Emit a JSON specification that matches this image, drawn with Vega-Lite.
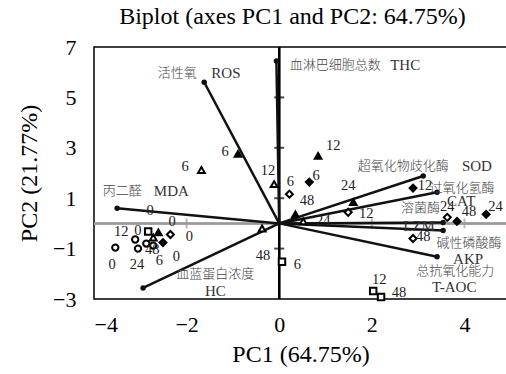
{
  "$schema": "https://vega.github.io/schema/vega-lite/v6.json",
  "width": 413,
  "height": 252,
  "autosize": {"type": "none"},
  "padding": {"left": 94, "top": 47, "right": 0, "bottom": 75},
  "background": "white",
  "title": {"text": "Biplot (axes PC1 and PC2: 64.75%)", "font": "Liberation Serif", "fontSize": 24, "fontWeight": "normal", "color": "black", "anchor": "middle", "dx": -8, "offset": 7},
  "config": {
    "view": {"stroke": "black", "strokeWidth": 1.5},
    "axis": {"grid": false, "ticks": false, "domain": false, "labelFont": "Liberation Serif", "labelFontSize": 22, "labelColor": "black", "titleFont": "Liberation Serif", "titleFontSize": 24, "titleFontWeight": "normal", "titleColor": "black"}
  },
  "datasets": {
    "scores": [
      {"group": "A", "time": "0", "pc1": -3.54, "pc2": -0.96, "lx": -3.61, "ly": -1.64},
      {"group": "A", "time": "12", "pc1": -3.11, "pc2": -0.64, "lx": -3.41, "ly": -0.36},
      {"group": "A", "time": "24", "pc1": -3.05, "pc2": -1.0, "lx": -3.07, "ly": -1.64},
      {"group": "A", "time": "48", "pc1": -2.87, "pc2": -0.8, "lx": -2.74, "ly": -1.04},
      {"group": "A", "time": "6", "pc1": -2.72, "pc2": -0.88, "lx": -2.59, "ly": -1.48},
      {"group": "B", "time": "0", "pc1": -2.83, "pc2": -0.32, "lx": -3.05, "ly": -0.32},
      {"group": "B", "time": "6", "pc1": 0.06, "pc2": -1.52, "lx": 0.39, "ly": -1.64},
      {"group": "B", "time": "12", "pc1": 2.03, "pc2": -2.68, "lx": 2.16, "ly": -2.24},
      {"group": "B", "time": "48", "pc1": 2.2, "pc2": -2.92, "lx": 2.59, "ly": -2.76},
      {"group": "C", "time": "0", "pc1": -2.61, "pc2": -0.36, "lx": -2.31, "ly": 0.04},
      {"group": "C", "time": "6", "pc1": -0.89, "pc2": 2.76, "lx": -1.17, "ly": 2.84},
      {"group": "C", "time": "12", "pc1": 0.84, "pc2": 2.68, "lx": 1.17, "ly": 3.08},
      {"group": "C", "time": "24", "pc1": 1.6, "pc2": 0.84, "lx": 1.49, "ly": 1.48},
      {"group": "C", "time": "48", "pc1": 0.35, "pc2": 0.36, "lx": 0.6, "ly": 0.88},
      {"group": "D", "time": "0", "pc1": -2.72, "pc2": -0.56, "lx": -2.79, "ly": 0.48},
      {"group": "D", "time": "6", "pc1": -1.68, "pc2": 2.12, "lx": -2.03, "ly": 2.24},
      {"group": "D", "time": "12", "pc1": -0.11, "pc2": 1.56, "lx": -0.24, "ly": 2.08},
      {"group": "D", "time": "24", "pc1": 0.52, "pc2": 0.08, "lx": 0.95, "ly": 0.08},
      {"group": "D", "time": "48", "pc1": -0.37, "pc2": -0.2, "lx": -0.35, "ly": -1.28},
      {"group": "E", "time": "0", "pc1": -2.51, "pc2": -0.76, "lx": -2.22, "ly": -1.32},
      {"group": "E", "time": "6", "pc1": 0.65, "pc2": 1.64, "lx": 0.8, "ly": 1.88},
      {"group": "E", "time": "12", "pc1": 2.89, "pc2": 1.4, "lx": 3.15, "ly": 1.48},
      {"group": "E", "time": "24", "pc1": 4.47, "pc2": 0.36, "lx": 4.67, "ly": 0.64},
      {"group": "E", "time": "48", "pc1": 3.84, "pc2": 0.08, "lx": 4.1, "ly": 0.44},
      {"group": "F", "time": "0", "pc1": -2.35, "pc2": -0.44, "lx": -1.94, "ly": -0.52},
      {"group": "F", "time": "6", "pc1": 0.22, "pc2": 1.16, "lx": 0.24, "ly": 1.64},
      {"group": "F", "time": "12", "pc1": 1.49, "pc2": 0.44, "lx": 1.88, "ly": 0.36},
      {"group": "F", "time": "24", "pc1": 3.63, "pc2": 0.24, "lx": 3.63, "ly": 0.64},
      {"group": "F", "time": "48", "pc1": 2.89, "pc2": -0.6, "lx": 3.11, "ly": -0.52}
    ],
    "loadings": [
      {"var": "ROS", "pc1": -1.62, "pc2": 5.6},
      {"var": "THC", "pc1": -0.06, "pc2": 6.44},
      {"var": "MDA", "pc1": -3.5, "pc2": 0.6},
      {"var": "HC", "pc1": -2.94, "pc2": -2.56},
      {"var": "SOD", "pc1": 3.11, "pc2": 1.88},
      {"var": "CAT", "pc1": 3.41, "pc2": 1.24},
      {"var": "LZM", "pc1": 3.54, "pc2": 0.04},
      {"var": "AKP", "pc1": 3.54, "pc2": -0.28},
      {"var": "T-AOC", "pc1": 3.41, "pc2": -1.32}
    ],
    "loadingLabels": [
      {"text": "活性氧", "kind": "zh", "pc1": -2.2, "pc2": 5.96},
      {"text": "ROS", "kind": "en", "pc1": -1.15, "pc2": 5.96},
      {"text": "血淋巴细胞总数", "kind": "zh", "pc1": 1.21, "pc2": 6.28},
      {"text": "THC", "kind": "en", "pc1": 2.72, "pc2": 6.28},
      {"text": "丙二醛", "kind": "zh", "pc1": -3.39, "pc2": 1.28},
      {"text": "MDA", "kind": "en", "pc1": -2.33, "pc2": 1.28},
      {"text": "血蓝蛋白浓度", "kind": "zh", "pc1": -1.38, "pc2": -2.0},
      {"text": "HC", "kind": "en", "pc1": -1.38, "pc2": -2.68},
      {"text": "超氧化物歧化酶", "kind": "zh", "pc1": 2.68, "pc2": 2.28},
      {"text": "SOD", "kind": "en", "pc1": 4.27, "pc2": 2.28},
      {"text": "过氧化氢酶", "kind": "zh", "pc1": 3.95, "pc2": 1.4},
      {"text": "CAT", "kind": "en", "pc1": 3.93, "pc2": 0.88},
      {"text": "溶菌酶", "kind": "zh", "pc1": 3.05, "pc2": 0.6},
      {"text": "LZM", "kind": "en", "pc1": 3.02, "pc2": -0.12},
      {"text": "碱性磷酸酶", "kind": "zh", "pc1": 4.1, "pc2": -0.76},
      {"text": "AKP", "kind": "en", "pc1": 4.08, "pc2": -1.4},
      {"text": "总抗氧化能力", "kind": "zh", "pc1": 3.8, "pc2": -1.88},
      {"text": "T-AOC", "kind": "en", "pc1": 3.78, "pc2": -2.52}
    ],
    "vticks": [{"pc1": 0, "pc2": -1}, {"pc1": 0, "pc2": 1}, {"pc1": 0, "pc2": 3}, {"pc1": 0, "pc2": 5}],
    "hticks": [{"pc1": -2, "pc2": 0}, {"pc1": 2, "pc2": 0}, {"pc1": 4, "pc2": 0}]
  },
  "layer": [
    {
      "data": {"name": "hticks"},
      "mark": {"type": "rule", "color": "#9a9a9a", "strokeWidth": 2},
      "transform": [{"filter": "datum.pc1 == 2"}],
      "encoding": {
        "y": {"field": "pc2", "type": "quantitative", "scale": {"domain": [-3, 7], "nice": false, "zero": false}, "title": "PC2 (21.77%)", "axis": {"values": [-3, -1, 1, 3, 5, 7], "labelPadding": 18, "titlePadding": 11}},
        "x": {"field": "pc1", "type": "quantitative", "scale": {"domain": [-4, 4.92], "nice": false, "zero": false}, "title": "PC1 (64.75%)", "axis": {"values": [-4, -2, 0, 2, 4], "labelPadding": 15, "titlePadding": 7}}
      }
    },
    {
      "data": {"name": "hticks"},
      "mark": {"type": "rule", "color": "#9a9a9a", "strokeWidth": 2},
      "encoding": {
        "y": {"datum": 0, "type": "quantitative", "title": "PC2 (21.77%)"}
      }
    },
    {
      "data": {"name": "hticks"},
      "mark": {"type": "tick", "orient": "vertical", "color": "#9a9a9a", "size": 10, "thickness": 2},
      "encoding": {
        "x": {"field": "pc1", "type": "quantitative", "title": "PC1 (64.75%)"},
        "y": {"field": "pc2", "type": "quantitative", "title": "PC2 (21.77%)"}
      }
    },
    {
      "data": {"name": "vticks"},
      "mark": {"type": "rule", "color": "black", "strokeWidth": 2},
      "encoding": {
        "x": {"datum": 0, "type": "quantitative", "title": "PC1 (64.75%)"}
      }
    },
    {
      "data": {"name": "vticks"},
      "mark": {"type": "tick", "orient": "horizontal", "color": "black", "size": 10, "thickness": 2},
      "encoding": {
        "x": {"field": "pc1", "type": "quantitative", "title": "PC1 (64.75%)"},
        "y": {"field": "pc2", "type": "quantitative", "title": "PC2 (21.77%)"}
      }
    },
    {
      "data": {"name": "loadings"},
      "mark": {"type": "rule", "color": "#111111", "strokeWidth": 2.5},
      "encoding": {
        "x": {"field": "pc1", "type": "quantitative", "title": "PC1 (64.75%)"},
        "y": {"field": "pc2", "type": "quantitative", "title": "PC2 (21.77%)"},
        "x2": {"datum": 0},
        "y2": {"datum": 0}
      }
    },
    {
      "data": {"name": "loadings"},
      "mark": {"type": "point", "shape": "circle", "filled": true, "color": "#111111", "size": 30, "opacity": 1},
      "encoding": {
        "x": {"field": "pc1", "type": "quantitative", "title": "PC1 (64.75%)"},
        "y": {"field": "pc2", "type": "quantitative", "title": "PC2 (21.77%)"}
      }
    },
    {
      "data": {"name": "scores"},
      "mark": {"type": "point", "filled": true, "stroke": "black", "strokeWidth": 2, "opacity": 1, "fillOpacity": 1, "strokeOpacity": 1},
      "encoding": {
        "x": {"field": "pc1", "type": "quantitative", "title": "PC1 (64.75%)"},
        "y": {"field": "pc2", "type": "quantitative", "title": "PC2 (21.77%)"},
        "shape": {"field": "group", "type": "nominal", "scale": {"domain": ["A", "B", "C", "D", "E", "F"], "range": ["circle", "square", "triangle-up", "triangle-up", "diamond", "diamond"]}, "legend": null},
        "fill": {"field": "group", "type": "nominal", "scale": {"domain": ["A", "B", "C", "D", "E", "F"], "range": ["white", "white", "black", "white", "black", "white"]}, "legend": null},
        "size": {"field": "group", "type": "nominal", "scale": {"domain": ["A", "B", "C", "D", "E", "F"], "range": [40, 50, 90, 70, 90, 60]}, "legend": null}
      }
    },
    {
      "data": {"name": "scores"},
      "mark": {"type": "text", "font": "Liberation Serif", "fontSize": 14.5, "color": "#222222", "align": "center", "baseline": "middle"},
      "encoding": {
        "x": {"field": "lx", "type": "quantitative", "title": "PC1 (64.75%)"},
        "y": {"field": "ly", "type": "quantitative", "title": "PC2 (21.77%)"},
        "text": {"field": "time"}
      }
    },
    {
      "data": {"name": "loadingLabels"},
      "transform": [{"filter": "datum.kind == 'zh'"}],
      "mark": {"type": "text", "font": "Noto Sans CJK SC", "fontSize": 13, "fontWeight": 300, "color": "#444444", "align": "center", "baseline": "middle"},
      "encoding": {
        "x": {"field": "pc1", "type": "quantitative", "title": "PC1 (64.75%)"},
        "y": {"field": "pc2", "type": "quantitative", "title": "PC2 (21.77%)"},
        "text": {"field": "text"}
      }
    },
    {
      "data": {"name": "loadingLabels"},
      "transform": [{"filter": "datum.kind == 'en'"}],
      "mark": {"type": "text", "font": "Liberation Serif", "fontSize": 15, "color": "#333333", "align": "center", "baseline": "middle"},
      "encoding": {
        "x": {"field": "pc1", "type": "quantitative", "title": "PC1 (64.75%)"},
        "y": {"field": "pc2", "type": "quantitative", "title": "PC2 (21.77%)"},
        "text": {"field": "text"}
      }
    }
  ]
}
